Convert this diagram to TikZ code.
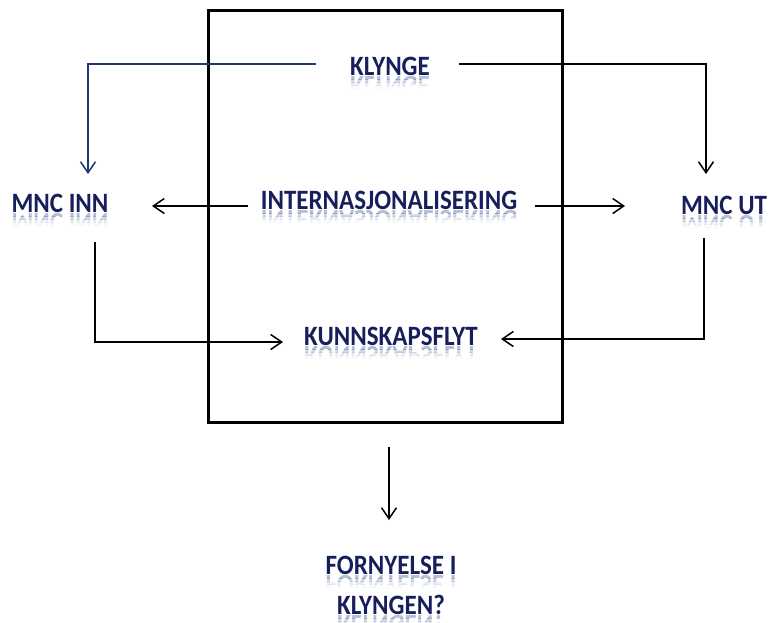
\documentclass[tikz,border=0pt]{standalone}
\usepackage{fontspec}
\setmainfont{Carlito}
\usetikzlibrary{arrows.meta}
\definecolor{navytext}{RGB}{22,30,92}
\definecolor{navyline}{RGB}{31,56,122}
\tikzset{
  lbl/.style={font=\bfseries\fontsize{25}{30}\selectfont, text=navytext,
    inner sep=0pt, text height=16pt, text depth=0pt, yscale=1.12},
  mirror/.style={lbl, yscale=-1, anchor=south, text=navyline},
  conn/.style={line width=1.5pt, -{Straight Barb[length=11pt,width=15pt]}},
  frame/.style={line width=3pt},
}
% one band of the mirror image, from #3 to #4 pt under the baseline
\newcommand{\mirrorband}[4]{%
  \begin{scope}
    \clip ([yshift=-#3pt]#1.south west) rectangle ([yshift=-#4pt]#1.south east);
    \node[mirror, opacity=#2] at (#1.south) {\csname mtext#1\endcsname};
  \end{scope}}
% label with a faded mirror image under its baseline
\newcommand{\mirrorlabel}[3]{%
  \node[lbl] (#1) at (#2) {#3};
  \expandafter\def\csname mtext#1\endcsname{#3}%
  \mirrorband{#1}{0.32}{0}{3}
  \mirrorband{#1}{0.2}{3}{6}
  \mirrorband{#1}{0.1}{6}{9}
  \mirrorband{#1}{0.04}{9}{12}}

\begin{document}
\begin{tikzpicture}[x=1pt, y=-1pt]
  \useasboundingbox (0,0) rectangle (771,622);
  \path
    (208.5,10) coordinate (boxnw)
    (562.5,422) coordinate (boxse)
    (316,64) coordinate (klout)
    (459,64) coordinate (krout)
    (88,174) coordinate (innin)
    (706,174) coordinate (utin)
    (248,206) coordinate (intl)
    (152,206) coordinate (innr)
    (535,206) coordinate (intr)
    (625,206) coordinate (utl)
    (95,242) coordinate (innd)
    (283,342) coordinate (kunl)
    (704,238) coordinate (utd)
    (501,339) coordinate (kunr)
    (389,447) coordinate (boxout)
    (389,520) coordinate (fornin)
    ;
  \draw[frame] (boxnw) rectangle (boxse);

  \mirrorlabel{klynge}{390,67}{KLYNGE}
  \mirrorlabel{inn}{60,204}{MNC INN}
  \mirrorlabel{intern}{389,201}{INTERNASJONALISERING}
  \mirrorlabel{ut}{724,206}{MNC UT}
  \mirrorlabel{kunn}{391,337}{KUNNSKAPSFLYT}
  \mirrorlabel{forn}{391,566}{FORNYELSE I}
  \mirrorlabel{klyngen}{391,606}{KLYNGEN?}

  \draw[conn, navyline] (klout) -| (innin);
  \draw[conn] (krout) -| (utin);
  \draw[conn] (intl) -- (innr);
  \draw[conn] (intr) -- (utl);
  \draw[conn] (innd) |- (kunl);
  \draw[conn] (utd) |- (kunr);
  \draw[conn] (boxout) -- (fornin);
\end{tikzpicture}
\end{document}
